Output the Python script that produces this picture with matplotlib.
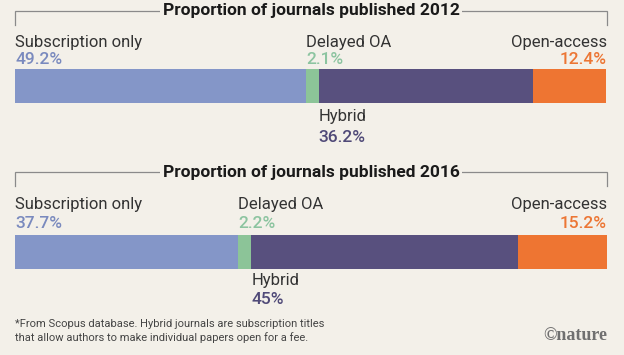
import matplotlib.pyplot as plt
import numpy as np

# Proportion of journals by access type (Scopus)
years = ['2012', '2016']
categories = ['Subscription only', 'Delayed OA', 'Hybrid', 'Open-access']
share_2012 = [49.2, 2.1, 36.2, 12.4]
share_2016 = [37.7, 2.2, 45.0, 15.2]
pct_labels_2012 = ['49.2%', '2.1%', '36.2%', '12.4%']
pct_labels_2016 = ['37.7%', '2.2%', '45%', '15.2%']

bar_colors = ['#8496c8', '#8cc498', '#58507e', '#ee7532']
pct_colors = ['#7a8abe', '#8cc4a0', '#504a78', '#ec7634']
bg = '#f3f0e9'
font = ['Roboto', 'DejaVu Sans']
plt.rcParams['font.family'] = font

fig = plt.figure(figsize=(6.24, 3.55), dpi=100, facecolor=bg)
# axes spans the bar width; y in pixel-like units from the top
ax = fig.add_axes([15 / 624, 0, 592 / 624, 1])
ax.set_xlim(0, 100)
ax.set_ylim(355, 0)
ax.axis('off')

# vertical layout for each panel (title, label, pct, bar centre, hybrid label, hybrid pct)
panels = [
    (share_2012, pct_labels_2012, years[0], 11, 42, 60, 86, 117, 137),
    (share_2016, pct_labels_2016, years[1], 172, 204, 223, 252, 281, 300),
]

lab = dict(fontsize=12, color='#333333', va='center')
pct = dict(fontsize=12.5, fontweight='medium', va='center')

for shares, pcts, year, ty, ly, py, by, hy, hpy in panels:
    lefts = np.concatenate([[0], np.cumsum(shares)[:-1]])
    ax.barh(by, shares, left=lefts, height=34, color=bar_colors, edgecolor='none')

    # bracket with title
    ax.plot([0, 0, 100, 100], [ty + 14, ty, ty, ty + 14], color='#8a8a8a', lw=0.9,
            clip_on=False, solid_joinstyle='miter')
    ax.text(50, ty, f'Proportion of journals published {year}', ha='center', va='center',
            fontsize=12.5, fontweight='bold', color='#1a1a1a',
            bbox=dict(facecolor=bg, edgecolor='none', pad=2))

    # labels above the bar
    ax.text(0, ly, categories[0], ha='left', **lab)
    ax.text(0, py, pcts[0], ha='left', color=pct_colors[0], **pct)
    ax.text(lefts[1], ly, categories[1], ha='left', **lab)
    ax.text(lefts[1], py, pcts[1], ha='left', color=pct_colors[1], **pct)
    ax.text(100, ly, categories[3], ha='right', **lab)
    ax.text(100, py, pcts[3], ha='right', color=pct_colors[3], **pct)
    # hybrid label below the bar
    ax.text(lefts[2], hy, categories[2], ha='left', **lab)
    ax.text(lefts[2], hpy, pcts[2], ha='left', color=pct_colors[2], **pct)

fig.text(15 / 624, 1 - 331 / 355,
         '*From Scopus database. Hybrid journals are subscription titles\n'
         'that allow authors to make individual papers open for a fee.',
         ha='left', va='center', fontsize=8, color='#444444', linespacing=1.35)
fig.text(607 / 624, 1 - 335 / 355, '©nature', ha='right', va='center', fontsize=13,
         fontweight='bold', family=['Liberation Serif', 'DejaVu Serif'], color='#707070')

fig.savefig('out.png', dpi=100, facecolor=bg)
